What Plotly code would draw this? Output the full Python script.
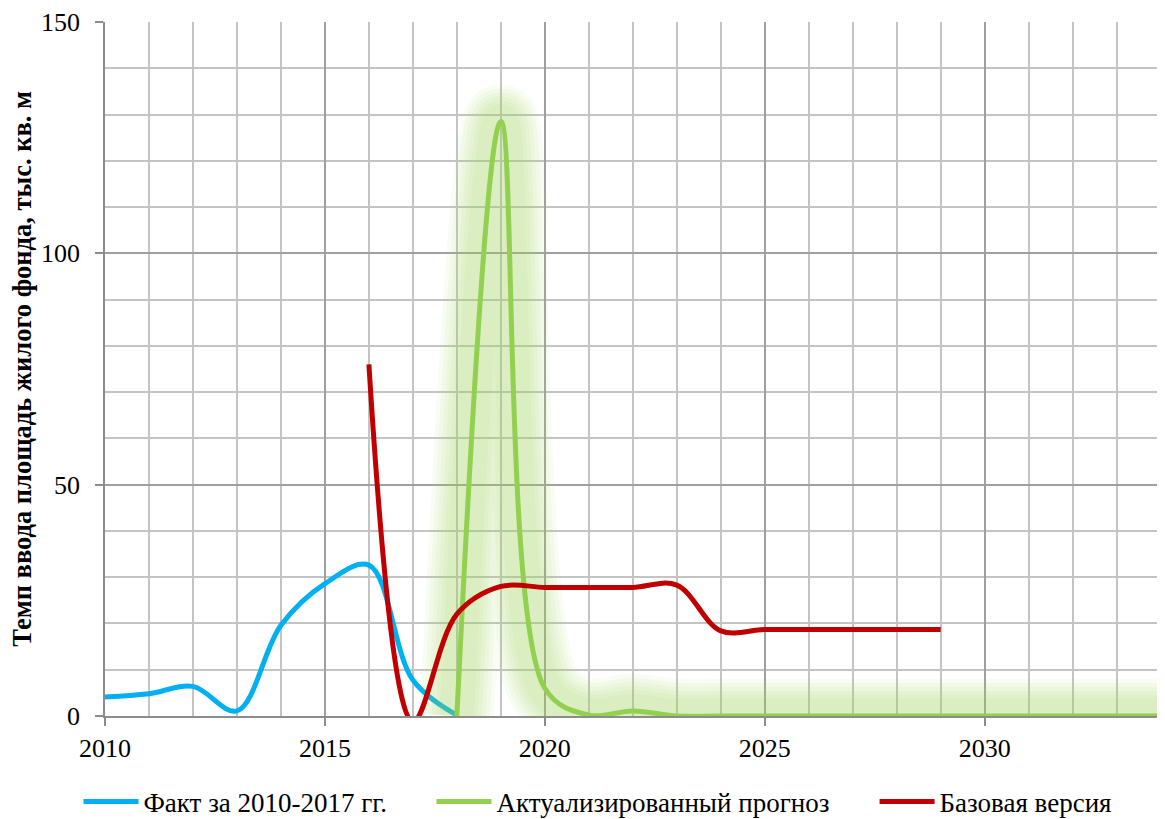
import plotly.graph_objects as go

# ---- data ----
fact_years = [2010, 2011, 2012, 2013, 2014, 2015, 2016, 2017, 2018]
fact_values = [4.1, 4.8, 6.4, 1.1, 19.6, 28.6, 32.6, 7.8, 0.2]

forecast_years = [2018, 2019, 2020, 2021, 2022, 2023, 2024, 2025, 2026, 2027,
                  2028, 2029, 2030, 2031, 2032, 2033, 2034, 2035]
forecast_values = [0, 128.5, 6, 0.2, 1.1, 0, 0, 0, 0, 0, 0, 0, 0, 0, 0, 0, 0, 0]

base_years = [2016, 2017, 2018, 2019, 2020, 2021, 2022, 2023, 2024, 2025,
              2026, 2027, 2028, 2029]
base_values = [76, -1.2, 22, 28.0, 27.8, 27.8, 27.8, 28.3, 18.4, 18.7,
               18.7, 18.7, 18.7, 18.7]

series_names = ["Факт за 2010-2017 гг.", "Актуализированный прогноз", "Базовая версия"]
y_title = "Темп ввода площадь жилого фонда, тыс. кв. м"

BLUE = "#00b0f0"
GREEN = "#92d050"
RED = "#c00000"
FONT = "Liberation Serif, Times New Roman, serif"

fig = go.Figure()

fig.add_trace(go.Scatter(
    x=fact_years, y=fact_values, mode="lines", name=series_names[0],
    line=dict(color=BLUE, width=5, shape="spline"), legend="legend"))

# soft glow around the forecast line
for w in [74, 66, 58, 50, 42, 34]:
    fig.add_trace(go.Scatter(
        x=forecast_years, y=forecast_values, mode="lines", showlegend=False,
        hoverinfo="skip",
        line=dict(color="rgba(160,215,90,0.075)", width=w, shape="spline")))

fig.add_trace(go.Scatter(
    x=forecast_years, y=forecast_values, mode="lines", name=series_names[1],
    line=dict(color=GREEN, width=5, shape="spline"), legend="legend2"))

fig.add_trace(go.Scatter(
    x=base_years, y=base_values, mode="lines", name=series_names[2],
    line=dict(color=RED, width=5, shape="spline"), legend="legend3"))

legend_common = dict(orientation="h", yanchor="middle", xanchor="left",
                     font=dict(family=FONT, size=27, color="#000"),
                     bgcolor="rgba(0,0,0,0)", y=-0.124, itemwidth=55)

fig.update_layout(
    width=1157, height=811,
    margin=dict(l=97, r=0, t=14, b=103, autoexpand=False),
    paper_bgcolor="white", plot_bgcolor="white",
    font=dict(family=FONT, size=26, color="#000"),
    legend=dict(x=-0.025, **legend_common),
    legend2=dict(x=0.308, **legend_common),
    legend3=dict(x=0.726, **legend_common),
    xaxis=dict(
        range=[2010, 2034.1], tick0=2010, dtick=5,
        showgrid=True, gridcolor="#a0a0a0", gridwidth=1.5,
        minor=dict(dtick=1, tick0=2010, showgrid=True, gridcolor="#c4c4c4", gridwidth=1.5),
        showline=True, linecolor="#8c8c8c", linewidth=1.5,
        ticks="outside", ticklen=8, tickcolor="#8c8c8c", tickwidth=1.5,
        tickfont=dict(family=FONT, size=26), zeroline=False, fixedrange=True),
    yaxis=dict(
        range=[0, 150], tick0=0, dtick=50,
        showgrid=True, gridcolor="#a0a0a0", gridwidth=1.5,
        minor=dict(dtick=10, tick0=0, showgrid=True, gridcolor="#c4c4c4", gridwidth=1.5),
        showline=True, linecolor="#8c8c8c", linewidth=1.5,
        ticks="outside", ticklen=8, tickcolor="#8c8c8c", tickwidth=1.5,
        ticklabelstandoff=10,
        tickfont=dict(family=FONT, size=26), zeroline=False, fixedrange=True),
    annotations=[dict(
        text=f"<b>{y_title}</b>", textangle=-90, showarrow=False,
        xref="paper", yref="paper", x=-0.0785, y=0.5, xanchor="center", yanchor="middle",
        font=dict(family=FONT, size=26.5, color="#000"))],
)

fig.write_html("out.html")
